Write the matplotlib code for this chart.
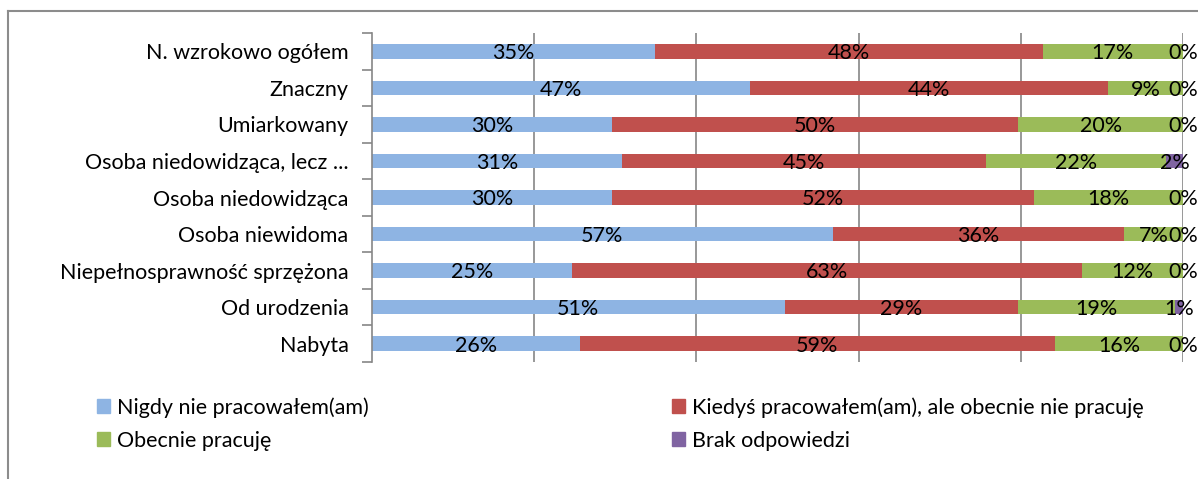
import matplotlib.pyplot as plt
from matplotlib.lines import Line2D
from matplotlib.patches import Patch
from matplotlib.ticker import FixedLocator

plt.rcParams['font.family'] = ['Lato', 'DejaVu Sans']

categories = [
    "N. wzrokowo ogółem",
    "Znaczny",
    "Umiarkowany",
    "Osoba niedowidząca, lecz ...",
    "Osoba niedowidząca",
    "Osoba niewidoma",
    "Niepełnosprawność sprzężona",
    "Od urodzenia",
    "Nabyta",
]
series_names = [
    "Nigdy nie pracowałem(am)",
    "Kiedyś pracowałem(am), ale obecnie nie pracuję",
    "Obecnie pracuję",
    "Brak odpowiedzi",
]
never = [34.9, 46.6, 29.6, 30.8, 29.6, 56.8, 24.7, 50.9, 25.6]
before = [47.8, 44.2, 50.1, 44.9, 52.0, 35.9, 62.9, 28.8, 58.6]
working = [17.3, 9.2, 20.3, 22.2, 18.4, 7.3, 12.4, 19.3, 15.8]
no_answer = [0.0, 0.0, 0.0, 2.1, 0.0, 0.0, 0.0, 1.0, 0.0]

colors = ["#8EB4E3", "#C0504D", "#9BBB59", "#8064A2"]
FS = 15.5

fig = plt.figure(figsize=(11.98, 4.79), dpi=100)
ax = fig.add_axes([372 / 1198, 117 / 479, 811 / 1198, 329 / 479])

y = list(range(len(categories)))
left = [0.0] * len(categories)
for vals, col in zip([never, before, working, no_answer], colors):
    ax.barh(y, vals, left=left, height=0.4, color=col, zorder=2)
    for i, v in enumerate(vals):
        ax.text(left[i] + v / 2, i + 0.05, f"{v:.0f}%", ha="center", va="center",
                fontsize=FS, color="black", zorder=3)
    left = [a + b for a, b in zip(left, vals)]

ax.set_xlim(0, 100)
ax.set_ylim(len(categories) - 0.5, -0.5)
ax.set_xticks([20, 40, 60, 80, 100])
ax.tick_params(axis="x", length=0, labelbottom=False)
ax.grid(axis="x", color="#868686", linewidth=1.2, zorder=0)

ax.set_yticks(y)
ax.set_yticklabels(categories, fontsize=FS)
ax.yaxis.set_minor_locator(FixedLocator([k - 0.5 for k in range(len(categories) + 1)]))
ax.tick_params(axis="y", which="major", length=0, pad=17)
ax.tick_params(axis="y", which="minor", length=7, color="#868686", width=1.2)

for s in ["top", "right", "bottom"]:
    ax.spines[s].set_visible(False)
ax.spines["left"].set_color("#868686")
ax.spines["left"].set_linewidth(1.2)

# outer chart frame
fig.add_artist(Line2D([8 / 1198, 1.0], [468 / 479, 468 / 479], transform=fig.transFigure,
                      color="#8c8c8c", linewidth=1.5))
fig.add_artist(Line2D([8 / 1198, 8 / 1198], [468 / 479, 0.0], transform=fig.transFigure,
                      color="#8c8c8c", linewidth=1.5))

handles = [Patch(color=c) for c in colors]
leg_kw = dict(loc="upper left", frameon=False, fontsize=FS, handlelength=0.6,
              handleheight=0.6, handletextpad=0.33, labelspacing=0.6,
              borderpad=0, borderaxespad=0)
fig.legend([handles[0], handles[2]], [series_names[0], series_names[2]],
           bbox_to_anchor=(97 / 1198, 82 / 479), **leg_kw)
fig.legend([handles[1], handles[3]], [series_names[1], series_names[3]],
           bbox_to_anchor=(672 / 1198, 82 / 479), **leg_kw)

fig.savefig("out.png", dpi=100)
